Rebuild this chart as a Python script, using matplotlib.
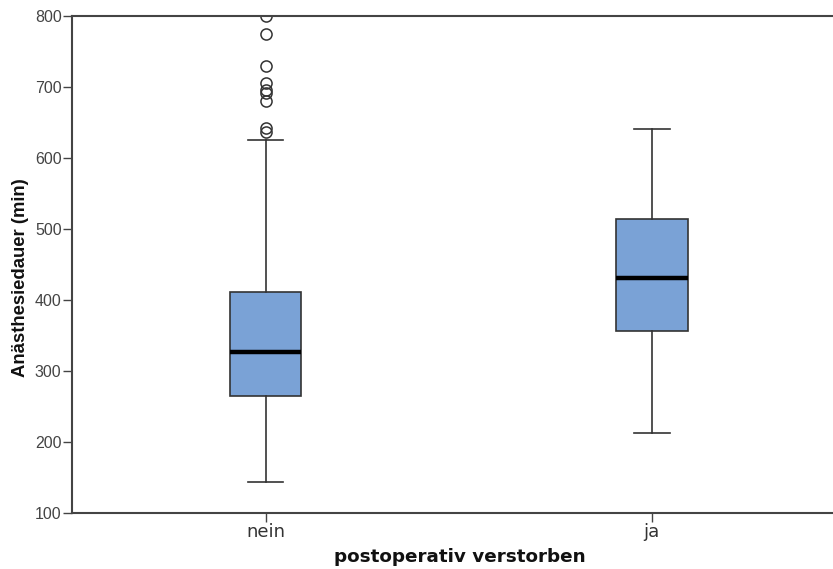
import matplotlib
matplotlib.use("Agg")
import matplotlib.pyplot as plt

categories = ["nein", "ja"]
q1 = [265, 356]
med = [327, 431]
q3 = [411, 514]
whislo = [143, 212]
whishi = [625, 641]
fliers = [[800, 775, 730, 705, 696, 691, 680, 642, 637], []]

plt.rcParams['font.family'] = ['Liberation Sans', 'DejaVu Sans']

fig = plt.figure(figsize=(8.33, 5.69), dpi=100)
ax = fig.add_axes([0.0864, 0.0984, 0.9136, 0.8735])

stats = []
for i, c in enumerate(categories):
    stats.append(dict(label=c, q1=q1[i], med=med[i], q3=q3[i],
                      whislo=whislo[i], whishi=whishi[i], fliers=fliers[i]))

ax.bxp(stats, positions=[0, 1], widths=0.186, patch_artist=True,
       boxprops=dict(facecolor='#7aa2d6', edgecolor='#333333', linewidth=1.2),
       medianprops=dict(color='black', linewidth=3.2),
       whiskerprops=dict(color='#333333', linewidth=1.2),
       capprops=dict(color='#333333', linewidth=1.2),
       capwidths=0.093,
       flierprops=dict(marker='o', markerfacecolor='none', markeredgecolor='#333333',
                       markersize=8, markeredgewidth=1.1))

ax.set_xlim(-0.501, 1.469)
ax.set_ylim(100, 800)
ax.set_yticks([100, 200, 300, 400, 500, 600, 700, 800])
ax.set_xticks([0, 1])
ax.set_xticklabels(categories, fontfamily='DejaVu Sans', fontsize=13)

for s in ['left', 'bottom', 'top']:
    ax.spines[s].set_color('#444444')
    ax.spines[s].set_linewidth(1.5)
ax.spines['right'].set_visible(False)

ax.tick_params(axis='y', colors='#444444', labelcolor='#444444', labelsize=11.5, length=6.5, width=1, pad=1)
ax.tick_params(axis='x', colors='#444444', labelcolor='#333333', length=6.5, width=1, pad=1)
ax.set_ylabel('Anästhesiedauer (min)', fontsize=13.3, fontweight='bold', color='#111111')
ax.yaxis.set_label_coords(-0.056, 0.473)
ax.set_xlabel('postoperativ verstorben', fontsize=13.2, fontweight='bold', color='#111111',
              fontfamily='DejaVu Sans')
ax.xaxis.set_label_coords(0.51, -0.071)

fig.savefig('out.png', dpi=100)
